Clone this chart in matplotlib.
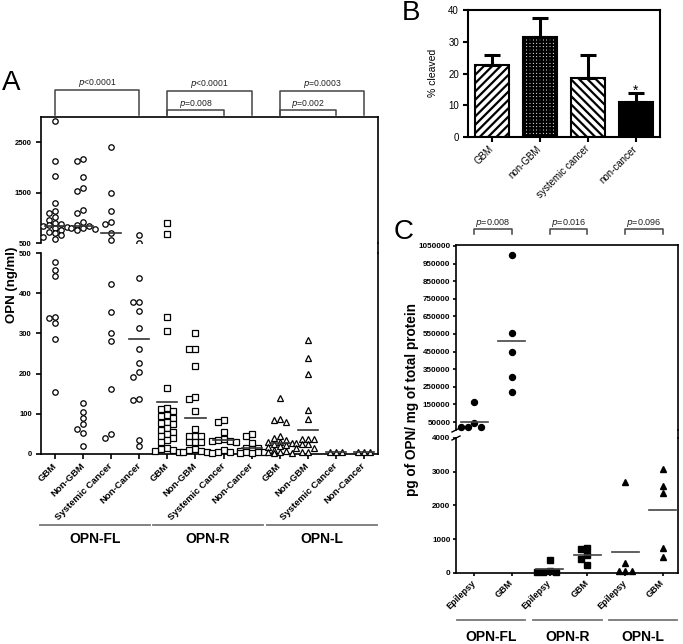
import numpy as np
import matplotlib.pyplot as plt
from matplotlib.lines import Line2D
from matplotlib.transforms import blended_transform_factory

plt.rcParams['font.family'] = ['Liberation Sans', 'DejaVu Sans']
plt.rcParams['hatch.linewidth'] = 1.6

# ---- panel A data (ng/ml) ----
a_cats = ["GBM", "Non-GBM", "Systemic Cancer", "Non-Cancer"] * 3
fl_gbm = [2930, 2130, 1820, 1290, 1130, 1100, 1020, 960, 900, 870, 850, 840, 820, 800,
          760, 720, 690, 650, 620, 580, 477, 458, 444, 341, 339, 325, 287, 153]
fl_nongbm = [2160, 2130, 1800, 1600, 1530, 1160, 1090, 920, 860, 840, 800, 800, 780, 760,
             127, 104, 89, 75, 62, 51, 20]
fl_sys = [2400, 1490, 1140, 920, 880, 700, 550, 424, 353, 300, 281, 161, 50, 39]
fl_noncan = [650, 505, 439, 377, 377, 356, 314, 260, 227, 203, 192, 138, 134, 35, 21]
r_gbm = [900, 680, 342, 305, 165, 115, 112, 108, 98, 95, 90, 80, 78, 75, 65, 60, 55, 50,
         45, 40, 35, 30, 15, 12, 10, 8, 5]
r_nongbm = [301, 262, 262, 219, 142, 138, 107, 62, 45, 45, 45, 29, 29, 29, 12, 10, 8, 6, 5]
r_sys = [84, 80, 55, 38, 35, 33, 32, 30, 10, 6, 5, 3]
r_noncan = [50, 45, 27, 16, 14, 12, 8, 6, 5, 4, 3, 2]
l_gbm = [140, 86, 84, 79, 45, 39, 35, 31, 30, 28, 25, 22, 20, 18, 10, 8, 6, 4, 3, 2]
l_nongbm = [283, 238, 200, 109, 86, 38, 38, 38, 28, 24, 24, 14, 14, 6, 4]
l_sys = [6, 5, 5]
l_noncan = [5, 5, 5]
a_means = [828, 842, 698, 285, 130, 89, 35, 15, 28, 60, 5, 5]
a_groups = ["OPN-FL", "OPN-R", "OPN-L"]
a_pvals = ["<0.0001", "<0.0001", "=0.008", "=0.0003", "=0.002"]

# ---- panel B data ----
b_cats = ["GBM", "non-GBM", "systemic cancer", "non-cancer"]
b_vals = [22.6, 31.5, 18.5, 11.0]
b_err = [3.2, 6.0, 7.3, 2.9]

# ---- panel C data (pg / mg total protein) ----
c_cats = ["Epilepsy", "GBM"] * 3
c_fl_epi = [165000, 42000, 20000, 20000, 20000]
c_fl_gbm = [1000000, 557000, 450000, 304000, 222000]
c_r_epi = [370, 40, 30, 20, 20]
c_r_gbm = [740, 700, 520, 400, 230]
c_l_epi = [2680, 280, 50, 50, 50]
c_l_gbm = [3085, 2560, 2360, 724, 476]
c_means = [50000, 508000, 96, 520, 625, 1860]
c_pvals = ["=0.008", "=0.016", "=0.096"]

W, H = 683, 644
fig = plt.figure(figsize=(W / 100, H / 100), dpi=100)


def box(x0, y0, x1, y1):
    return [x0 / W, 1 - y1 / H, (x1 - x0) / W, (y1 - y0) / H]


def fline(x0, y0, x1, y1, **kw):
    fig.add_artist(Line2D([x0 / W, x1 / W], [1 - y0 / H, 1 - y1 / H], **kw))


def ftext(x, y, s, **kw):
    fig.text(x / W, 1 - y / H, s, **kw)


def swarm(ax, xc, vals, gap, kmax=2):
    # simple beeswarm in pixel space, at most kmax columns each side
    pts = ax.transData.transform(np.column_stack([np.full(len(vals), xc), vals]))
    placed, out = [], []
    ks = [0]
    for k in range(1, kmax + 1):
        ks += [-k, k]
    for xp, yp in pts:
        best, best_d = xp, -1
        for k in ks:
            cx = xp + k * gap
            d = min([np.hypot(cx - px, yp - py) for px, py in placed] + [1e9])
            if d >= gap * 0.9:
                best = cx
                break
            if d > best_d:
                best, best_d = cx, d
        placed.append((best, yp))
        out.append(ax.transData.inverted().transform((best, yp))[0])
    return np.array(out)


def style(ax, lw=1.2, length=3.5, pad=3.0):
    for s in ax.spines.values():
        s.set_linewidth(lw)
    ax.tick_params(direction='out', length=length, width=lw, pad=pad)


# ================= Panel A =================
axAu = fig.add_axes(box(41, 117, 378, 243))
axAl = fig.add_axes(box(41, 253, 378, 454))
for ax in (axAu, axAl):
    ax.set_xlim(-0.5, 11.5)
    style(ax)
axAu.set_ylim(500, 3000)
axAl.set_ylim(0, 500)
axAu.spines['bottom'].set_visible(False)
axAl.spines['top'].set_visible(False)
axAu.set_xticks([])
axAu.set_yticks([500, 1500, 2500])
axAl.set_yticks(range(0, 501, 100))
for ax in (axAu, axAl):
    for t in ax.get_yticklabels():
        t.set_fontsize(5.5)
        t.set_fontweight('bold')
axAl.set_xticks(range(12))
axAl.set_xticklabels(a_cats, rotation=45, ha='right', va='center',
                     rotation_mode='anchor', fontsize=6.8, fontweight='bold')
axAl.tick_params(axis='x', pad=4)
fline(378, 243, 378, 253, color='black', lw=1.2)

a_data = [fl_gbm, fl_nongbm, fl_sys, fl_noncan, r_gbm, r_nongbm, r_sys, r_noncan,
          l_gbm, l_nongbm, l_sys, l_noncan]
a_marks = ['o'] * 4 + ['s'] * 4 + ['^'] * 4
for i, vals in enumerate(a_data):
    vals = np.array(vals, dtype=float)
    for ax, sel in ((axAu, vals > 500), (axAl, vals <= 500)):
        v = vals[sel]
        if len(v) == 0:
            continue
        xs = swarm(ax, i, v, 6.0)
        ax.plot(xs, v, ls='none', marker=a_marks[i], ms=3.9, mfc='white', mec='black',
                mew=0.9, clip_on=(ax is axAu), zorder=3)
    m = a_means[i]
    ax = axAu if m > 500 else axAl
    ax.plot([i - 0.36, i + 0.36], [m, m], color='#333333', lw=1.2, zorder=4)

# significance brackets (panel A)
trA = blended_transform_factory(axAu.transData, axAu.transAxes)


def yA(py):
    return (243 - py) / 126


def bracket(ax, tr, x0, x1, ytop, ybot, label, ytxt, fs):
    ax.plot([x0, x0, x1, x1], [ybot, ytop, ytop, ybot], color='#444444', lw=1.1,
            transform=tr, clip_on=False)
    ax.text((x0 + x1) / 2, ytxt, r'$\it{p}$' + label, transform=tr, ha='center',
            va='center', fontsize=fs, color='#222222')


bracket(axAu, trA, 0, 3, yA(89.5), yA(115), a_pvals[0], yA(83), 6.2)
bracket(axAu, trA, 4, 7, yA(90.5), yA(115), a_pvals[1], yA(83.5), 6.2)
bracket(axAu, trA, 4, 6, yA(110), yA(115), a_pvals[2], yA(103.5), 6.2)
bracket(axAu, trA, 8, 11, yA(90.5), yA(115), a_pvals[3], yA(83.5), 6.2)
bracket(axAu, trA, 8, 10, yA(110), yA(115), a_pvals[4], yA(103.5), 6.2)

for (x0, x1), g in zip([(40, 150), (153, 263), (267, 377)], a_groups):
    fline(x0, 525, x1, 525, color='#777777', lw=1.3)
    ftext((x0 + x1) / 2, 539, g, ha='center', va='center', fontsize=10, fontweight='bold')

ftext(12, 285, "OPN (ng/ml)", rotation=90, ha='center', va='center', fontsize=9.5,
      fontweight='bold')
ftext(11.5, 83, "A", ha='center', va='center', fontsize=20)

# ================= Panel B =================
axB = fig.add_axes(box(468, 10, 660, 137))
style(axB, 1.5)
hatches = ['////', '+++++', '\\\\\\\\', None]
faces = ['white', 'white', 'white', 'black']
xb = np.arange(len(b_vals))
for i in range(len(b_vals)):
    axB.bar(xb[i], b_vals[i], width=0.7, color=faces[i], edgecolor='black', lw=1.5,
            hatch=hatches[i], zorder=2)
axB.errorbar(xb, b_vals, yerr=[np.zeros(len(b_err)), b_err], fmt='none', ecolor='black',
             elinewidth=2.2, capsize=6, capthick=2.2, zorder=3)
axB.text(3, 14.6, "*", ha='center', va='center', fontsize=10)
axB.set_xlim(-0.5, 3.5)
axB.set_ylim(0, 40)
axB.set_yticks(range(0, 41, 10))
axB.tick_params(axis='y', labelsize=7)
axB.set_xticks(xb)
axB.set_xticklabels(b_cats, rotation=45, ha='right', va='center', rotation_mode='anchor',
                    fontsize=7)
axB.tick_params(axis='x', pad=4)
ftext(433, 73, "% cleaved", rotation=90, ha='center', va='center', fontsize=7.5)
ftext(411, 13, "B", ha='center', va='center', fontsize=20)

# ================= Panel C =================
axCu = fig.add_axes(box(456, 245, 678, 430))
axCl = fig.add_axes(box(456, 438, 678, 572.7))
for ax in (axCu, axCl):
    ax.set_xlim(-0.48, 5.4)
    style(ax, length=2.5, pad=1.5)
axCu.set_ylim(5000, 1055000)
axCl.set_ylim(0, 4000)
axCu.spines['bottom'].set_visible(False)
axCl.spines['top'].set_visible(False)
axCu.set_xticks([])
cu_ticks = list(range(50000, 1050001, 100000))
axCu.set_yticks(cu_ticks)
axCu.set_yticklabels([str(t) for t in cu_ticks])
cl_ticks = list(range(0, 4001, 1000))
axCl.set_yticks(cl_ticks)
axCl.set_yticklabels([str(t) for t in cl_ticks])
for ax in (axCu, axCl):
    for t in ax.get_yticklabels():
        t.set_fontsize(5.8)
        t.set_fontweight('bold')
axCl.set_xticks(range(6))
axCl.set_xticklabels(c_cats, rotation=45, ha='right', va='center', rotation_mode='anchor',
                     fontsize=6.5, fontweight='bold')
axCl.tick_params(axis='x', pad=4)
fline(678, 430, 678, 438, color='black', lw=1.2)
# axis break marks
for yb in (430, 438):
    fline(452, yb + 2, 460, yb - 2, color='black', lw=1.0)

c_data = [c_fl_epi, c_fl_gbm, c_r_epi, c_r_gbm, c_l_epi, c_l_gbm]
c_marks = ['o', 'o', 's', 's', '^', '^']
for i, vals in enumerate(c_data):
    ax = axCu if i < 2 else axCl
    v = np.array(vals, dtype=float)
    xs = swarm(ax, i, v, 6.5)
    ax.plot(xs, v, ls='none', marker=c_marks[i], ms=4.3, color='black', clip_on=False,
            zorder=3)
    ax.plot([i - 0.36, i + 0.36], [c_means[i], c_means[i]], color='#444444', lw=1.2,
            zorder=4)

trC = blended_transform_factory(axCu.transData, axCu.transAxes)


def yC(py):
    return (430 - py) / 185


for k, p in enumerate(c_pvals):
    bracket(axCu, trC, 2 * k, 2 * k + 1, yC(229.5), yC(234), p, yC(223), 6.5)

for (x0, x1), g in zip([(457, 525), (533, 602), (609, 677)], a_groups):
    fline(x0, 620, x1, 620, color='#777777', lw=1.3)
    ftext((x0 + x1) / 2, 637, g, ha='center', va='center', fontsize=10, fontweight='bold')

ftext(412, 400, "pg of OPN/ mg of total protein", rotation=90, ha='center', va='center',
      fontsize=9.8, fontweight='bold')
ftext(404, 232, "C", ha='center', va='center', fontsize=20)

fig.savefig("out.png", dpi=100)
